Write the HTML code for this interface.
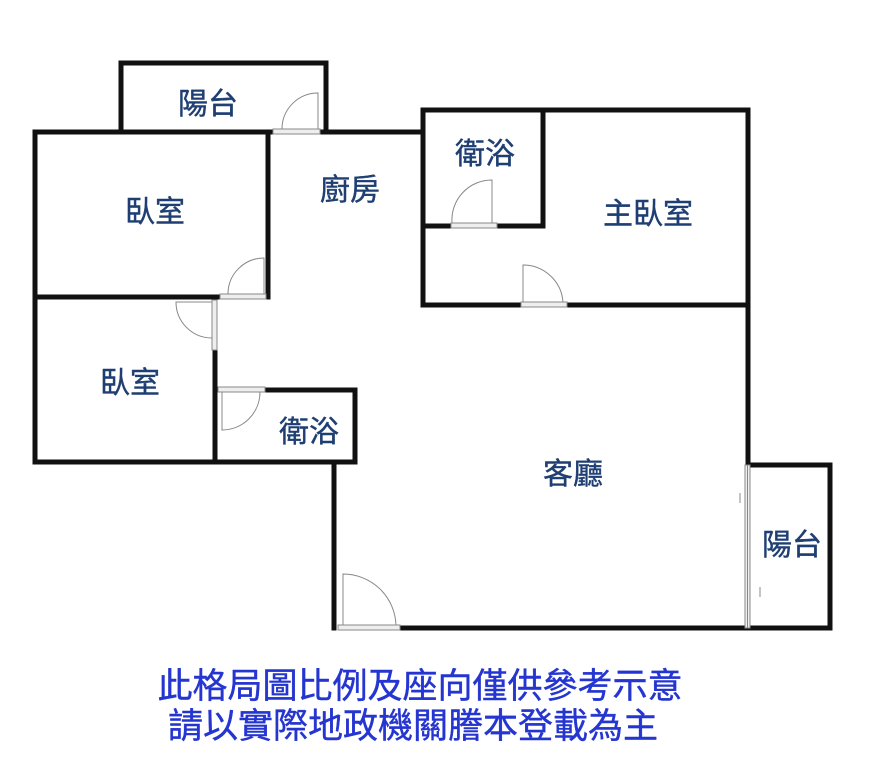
<!DOCTYPE html>
<html><head><meta charset="utf-8"><style>
body{margin:0;background:#fff;}
svg{display:block}
text{font-family:"Liberation Sans","Noto Sans CJK TC",sans-serif;}
</style></head><body>
<svg width="874" height="766" viewBox="0 0 874 766" xmlns="http://www.w3.org/2000/svg">
<g stroke="#111" stroke-width="5" fill="none" stroke-linecap="square">
<polyline points="121,130 121,63 326,63 326,130"/>
<line x1="35" y1="132" x2="273" y2="132"/>
<line x1="320" y1="132" x2="422" y2="132"/>
<line x1="35" y1="132" x2="35" y2="462"/>
<line x1="268" y1="132" x2="268" y2="297"/>
<line x1="35" y1="297" x2="220" y2="297"/>
<polyline points="423,305 423,110 748,110 748,465"/>
<line x1="543" y1="110" x2="543" y2="226"/>
<line x1="423" y1="226" x2="451" y2="226"/>
<line x1="497" y1="226" x2="543" y2="226"/>
<line x1="423" y1="305" x2="521" y2="305"/>
<line x1="567" y1="305" x2="748" y2="305"/>
<line x1="215" y1="350" x2="215" y2="462"/>
<line x1="35" y1="462" x2="355" y2="462"/>
<line x1="265" y1="390" x2="355" y2="390"/>
<line x1="355" y1="390" x2="355" y2="462"/>
<line x1="334" y1="462" x2="334" y2="628"/>
<line x1="400" y1="628" x2="830" y2="628"/>
<polyline points="748,465 830,465 830,628"/>
</g>
<g stroke="#888" stroke-width="1" fill="none">
<rect x="273" y="129" width="47" height="5" fill="#eee"/>
<path d="M318,129 V93 A36,36 0 0 0 282,129"/>
<rect x="220" y="294" width="46" height="5" fill="#eee"/>
<path d="M264,294 V258 A36,36 0 0 0 228,294"/>
<rect x="212" y="300" width="5" height="50" fill="#eee"/>
<path d="M212,302 H176 A36,36 0 0 0 212,338"/>
<rect x="218" y="387" width="47" height="5" fill="#eee"/>
<path d="M222,392 V430 A38,38 0 0 0 260,392"/>
<rect x="451" y="223" width="46" height="5" fill="#eee"/>
<path d="M492,223 V180 A40,40 0 0 0 452,223"/>
<rect x="521" y="302" width="46" height="5" fill="#eee"/>
<path d="M523,302 V265 A40,40 0 0 1 563,302"/>
<rect x="338" y="625" width="62" height="5" fill="#eee"/>
<path d="M343,625 V574 A53,53 0 0 1 396,625"/>
<rect x="745" y="465" width="5" height="163" fill="#eee"/>
<line x1="747.5" y1="465" x2="747.5" y2="628"/>
<line x1="740" y1="493" x2="740" y2="503"/>
<line x1="760" y1="587" x2="760" y2="597"/>
</g>
<g fill="#1f3f73" font-size="30" text-anchor="middle" stroke="#1f3f73" stroke-width="0.4">
<text x="208" y="114">陽台</text>
<text x="155" y="222">臥室</text>
<text x="350" y="200">廚房</text>
<text x="485" y="164">衛浴</text>
<text x="648" y="224">主臥室</text>
<text x="130" y="393">臥室</text>
<text x="309" y="442">衛浴</text>
<text x="573" y="484">客廳</text>
<text x="792" y="555">陽台</text>
</g>
<g fill="#2535d0" font-size="35" text-anchor="middle" stroke="#2535d0" stroke-width="0.4">
<text x="420" y="698">此格局圖比例及座向僅供參考示意</text>
<text x="413" y="738">請以實際地政機關謄本登載為主</text>
</g>
</svg>
</body></html>
